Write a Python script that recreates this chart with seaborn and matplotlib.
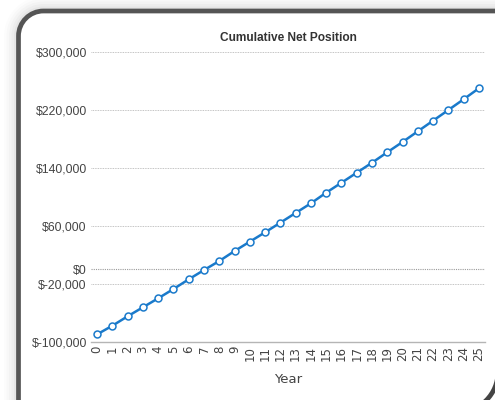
import matplotlib
matplotlib.use("Agg")
import matplotlib.pyplot as plt
from matplotlib.patches import PathPatch, Arc
from matplotlib.path import Path
from matplotlib.transforms import IdentityTransform
import seaborn as sns
import pandas as pd

years = list(range(26))
net_position = [-89700, -77800, -64800, -52400, -40000, -27200, -13800, -1000,
                11400, 25200, 38100, 51000, 64300, 77700, 91000, 105700,
                119400, 133200, 147000, 161400, 175600, 190300, 205000,
                219700, 234500, 249700]
y_ticks = [-100000, -20000, 0, 60000, 140000, 220000, 300000]
y_tick_labels = ["$-100,000", "$-20,000", "$0", "$60,000", "$140,000", "$220,000", "$300,000"]
title = "Cumulative Net Position"
x_label = "Year"

sns.set_theme(style="white")
plt.rcParams["font.family"] = ["Liberation Sans", "DejaVu Sans"]

fig = plt.figure(figsize=(4.95, 4.0), dpi=100)
fig.patch.set_facecolor("white")

ident = IdentityTransform()


def card_path(left, top, r):
    k = 0.5523 * r
    verts = [(left, -50), (left, top - r),
             (left, top - r + k), (left + r - k, top), (left + r, top),
             (800, top), (800, -50), (left, -50)]
    codes = [Path.MOVETO, Path.LINETO,
             Path.CURVE4, Path.CURVE4, Path.CURVE4,
             Path.LINETO, Path.LINETO, Path.CLOSEPOLY]
    return Path(verts, codes)


# soft shadow
for i, a in enumerate([0.035, 0.03, 0.025, 0.02, 0.015, 0.01]):
    g = 2 + i * 2.5
    fig.patches.append(PathPatch(card_path(18.5 - g, 389 + g, 25 + g), transform=ident,
                                 facecolor="black", edgecolor="none", alpha=a, zorder=0))
# card
fig.patches.append(PathPatch(card_path(18.5, 389, 25), transform=ident,
                             facecolor="white", edgecolor="#555555", linewidth=3.4, zorder=1))
# bottom-right corner of the card
fig.patches.append(Arc((458, 28), 80, 80, theta1=270, theta2=360, transform=ident,
                       color="#444444", linewidth=3.4, zorder=1))

ax = fig.add_axes([91 / 495, 1 - 341.8 / 400, (485 - 91) / 495, (341.8 - 51.8) / 400])
ax.set_facecolor("none")
ax.set_zorder(2)

df = pd.DataFrame({"Year": years, "Net": net_position})
blue = "#1a7acb"
sns.lineplot(data=df, x="Year", y="Net", ax=ax, color=blue, linewidth=1.8,
             marker="o", markersize=5, markerfacecolor="white",
             markeredgecolor=blue, markeredgewidth=1.1)

ax.set_xlim(-0.4, 25.4)
ax.set_ylim(-100000, 300000)
ax.set_yticks(y_ticks)
ax.set_yticklabels(y_tick_labels)
ax.set_xticks(years)
ax.set_xticklabels([str(y) for y in years], rotation=90)

for t in y_ticks:
    if t == -100000:
        continue
    ax.axhline(t, color="#9a9a9a" if t == 0 else "#b0b0b0", linestyle=(0, (1, 1)),
               linewidth=0.8 if t == 0 else 0.6, zorder=0)

for s in ["top", "right", "left"]:
    ax.spines[s].set_visible(False)
ax.spines["bottom"].set_color("#b5b5b5")
ax.spines["bottom"].set_linewidth(1.0)

ax.tick_params(axis="y", length=0, pad=3, labelsize=8.8, labelcolor="#444444")
ax.tick_params(axis="x", length=0, pad=3, labelsize=8.5, labelcolor="#444444")
for lbl in ax.get_xticklabels():
    lbl.set_family(["DejaVu Sans"])
    lbl.set_fontsize(8.5)

ax.set_xlabel(x_label, fontsize=9.5, color="#444444", labelpad=9, family=["DejaVu Sans"])
ax.set_ylabel("")
ax.set_title(title, fontsize=8.6, fontweight="bold", color="#333333", pad=8)

fig.savefig("out.png", dpi=100)
